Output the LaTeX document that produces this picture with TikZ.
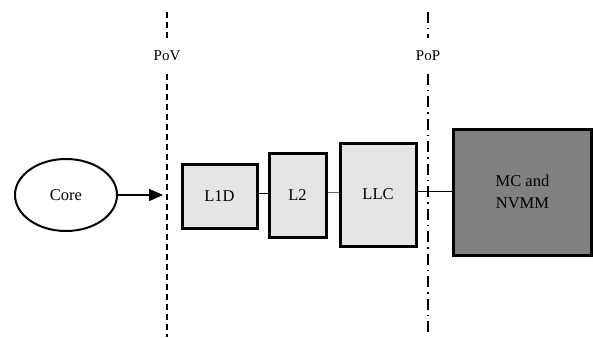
\documentclass[tikz,border=0pt]{standalone}
\usepackage{fontspec}
\setmainfont{Liberation Serif}
\newfontfamily\timesf{Liberation Serif}
\usetikzlibrary{arrows.meta,shapes.geometric}
\begin{document}
\begin{tikzpicture}[x=1pt,y=-1pt,
  txt/.style={font=\timesf\fontsize{16.5}{22}\selectfont},
  cachebox/.style={txt,draw=black,line width=3pt,fill=black!10,inner sep=0pt},
  mainbox/.style={txt,draw=black,line width=3pt,fill=black!50,inner sep=0pt,align=center},
  link/.style={draw=black,line width=0.8pt},
  vline/.style={line width=1.3pt},
  lbl/.style={font=\timesf\fontsize{15}{17}\selectfont,inner sep=0pt,outer sep=0pt,minimum height=35pt}]
\useasboundingbox (0,0) rectangle (593,337);
% boundary lines
\node[lbl] (pov) at (167,56) {PoV};
\node[lbl] (pop) at (428,56) {PoP};
\coordinate (povT) at (167,12);
\coordinate (povB) at (167,337);
\coordinate (popT) at (428,12);
\coordinate (popB) at (428,337);
\draw[vline,dash pattern=on 6pt off 4pt] (povT) -- (pov.north);
\draw[vline,dash pattern=on 6pt off 4pt] (pov.south) -- (povB);
\draw[vline,dash pattern=on 11pt off 5pt on 1.5pt off 5pt] (popT) -- (pop.north);
\draw[vline,dash pattern=on 11pt off 5pt on 1.5pt off 5pt] (pop.south) -- (popB);
% nodes
\node[txt,draw=black,line width=2pt,ellipse,minimum width=102pt,minimum height=72pt,inner sep=0pt] (core) at (66,195) {Core};
\coordinate (arrowend) at (163,195);
\node[cachebox,minimum width=75pt,minimum height=64pt] (l1d) at (219.5,196) {L1D};
\node[cachebox,minimum width=57pt,minimum height=84pt] (l2) at (297.5,195) {L2};
\node[cachebox,minimum width=76pt,minimum height=103pt] (llc) at (378,194.5) {LLC};
\node[mainbox,minimum width=138pt,minimum height=126pt] (mc) at (522.5,192) {MC and\\NVMM};
% connectors
\draw[line width=1.5pt,-{Triangle[length=14pt,width=12pt]}] (core.east) -- (arrowend);
\draw[link] (l1d.east |- 0,193) -- (l2.west |- 0,193);
\draw[link,draw=black!60] (l2.east |- 0,192) -- (llc.west |- 0,192);
\draw[link] (llc.east |- 0,191) -- (mc.west |- 0,191);
\end{tikzpicture}
\end{document}
